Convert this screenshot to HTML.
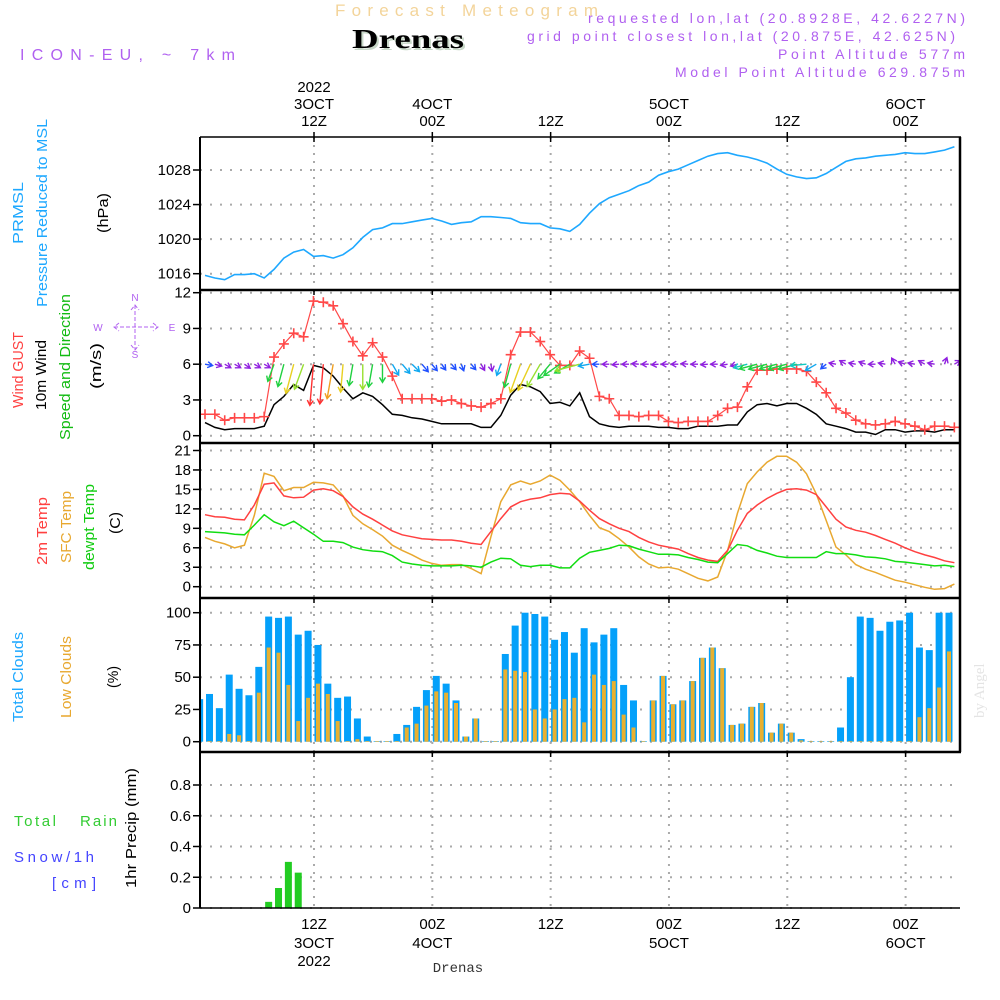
<!DOCTYPE html>
<html><head><meta charset="utf-8">
<style>
html,body{margin:0;padding:0;background:#fff;}
svg{display:block;font-family:"Liberation Sans",sans-serif;}
.tk{font-size:15px;fill:#000;}
.pu{font-size:14px;fill:#b060f0;}
</style></head>
<body>
<svg id="chart" width="1000" height="1000" viewBox="0 0 1000 1000" xmlns="http://www.w3.org/2000/svg">
<rect x="0" y="0" width="1000" height="1000" fill="#fff"/>
<text x="335" y="16" font-size="17" fill="#f3d49a" textLength="263" lengthAdjust="spacing">Forecast Meteogram</text>
<text x="354" y="50" font-size="27" font-weight="bold" font-family="Liberation Serif, serif" fill="#c8d8c8" textLength="112" lengthAdjust="spacingAndGlyphs">Drenas</text>
<text x="352" y="48" font-size="27" font-weight="bold" font-family="Liberation Serif, serif" fill="#000" textLength="112" lengthAdjust="spacingAndGlyphs">Drenas</text>
<text x="588" y="23" class="pu" textLength="377" lengthAdjust="spacing">requested lon,lat (20.8928E, 42.6227N)</text>
<text x="527" y="41" class="pu" textLength="428" lengthAdjust="spacing">grid point closest lon,lat (20.875E, 42.625N)</text>
<text x="778" y="59" class="pu" textLength="187" lengthAdjust="spacing">Point Altitude 577m</text>
<text x="675" y="77" class="pu" textLength="290" lengthAdjust="spacing">Model Point Altitude 629.875m</text>
<text x="20" y="60" font-size="16" fill="#b060f0" textLength="215" lengthAdjust="spacing">ICON-EU, ~ 7km</text>
<text x="0" y="0" transform="translate(984,718) rotate(-90)" font-size="15" font-family="Liberation Serif, serif" fill="#e4e4e4">by Angel</text>
<g id="labels" font-size="15"></g>
<g id="grid"></g>
<g id="marks"></g>
<g id="frame"></g>
</svg>
<script>
// ---- data (hourly, k = 0..76) ----
const pressure=[1015.8,1015.5,1015.3,1015.9,1015.9,1016.0,1015.5,1016.5,1017.8,1018.5,1018.8,1018.0,1018.1,1017.8,1018.2,1019.0,1020.2,1021.1,1021.3,1021.8,1021.8,1022.0,1022.2,1022.4,1022.1,1021.7,1021.9,1022.0,1022.6,1022.6,1022.5,1022.4,1021.9,1021.8,1021.8,1021.3,1021.2,1020.9,1021.7,1023.0,1024.1,1024.8,1025.2,1025.6,1026.2,1026.6,1027.4,1027.8,1028.1,1028.6,1029.1,1029.6,1029.9,1030.0,1029.7,1029.5,1029.2,1028.8,1028.1,1027.5,1027.2,1027.0,1027.1,1027.6,1028.3,1029.0,1029.3,1029.4,1029.6,1029.7,1029.8,1030.0,1029.9,1029.9,1030.1,1030.3,1030.7];
const gust=[1.8,1.8,1.3,1.5,1.5,1.5,1.6,6.6,7.7,8.6,8.3,11.3,11.2,10.9,9.4,7.9,6.7,7.8,6.6,5.0,3.1,3.1,3.1,3.1,2.9,3.0,2.7,2.5,2.4,2.7,3.1,6.8,8.7,8.7,7.9,6.8,5.9,5.9,7.1,6.5,3.3,3.1,1.7,1.7,1.6,1.7,1.7,1.2,1.1,1.2,1.2,1.2,1.7,2.3,2.4,4.1,5.5,5.5,5.6,5.6,5.6,5.4,4.5,3.6,2.3,1.9,1.3,1.0,0.9,1.0,1.2,1.0,0.8,0.5,0.8,0.8,0.7];
const wind=[1.1,0.7,0.5,0.6,0.6,0.6,0.8,2.6,3.3,4.3,3.8,5.9,5.7,5.0,4.0,3.1,3.6,3.3,2.6,1.8,1.7,1.5,1.4,1.2,1.0,1.0,1.0,1.0,0.7,0.7,1.7,3.4,4.3,4.1,3.7,2.7,2.8,2.5,3.6,1.6,1.0,0.8,0.7,0.8,0.8,0.8,0.7,0.7,0.6,0.6,0.8,0.8,0.8,0.9,0.9,2.0,2.6,2.7,2.5,2.7,2.7,2.3,1.8,1.0,0.8,0.6,0.3,0.3,0.1,0.5,0.5,0.3,0.4,0.4,0.3,0.5,0.5];
const windDir=[280,285,300,300,305,300,300,20,15,15,20,5,5,10,5,10,0,10,0,330,320,315,320,320,325,320,340,320,330,350,20,15,20,25,30,40,55,60,75,80,90,90,85,90,95,90,85,90,90,95,90,85,90,80,75,75,75,75,75,75,75,85,60,50,100,120,100,110,90,100,150,110,100,120,100,200,240];
const temp2m=[11.1,10.8,10.7,10.4,10.3,12.6,15.8,16.0,14.0,13.7,13.8,14.9,15.1,14.8,13.9,12.3,11.2,10.4,9.5,8.6,8.0,7.7,7.4,7.3,7.2,7.2,7.0,6.7,6.5,8.5,10.5,12.3,13.1,13.5,13.7,14.2,14.4,14.3,13.2,11.8,10.5,9.7,9.0,8.5,7.6,6.9,6.4,6.1,5.8,5.1,4.5,4.1,3.9,5.6,8.7,11.3,12.6,13.6,14.4,15.0,15.1,14.9,14.2,12.3,10.4,9.2,8.7,8.4,7.9,7.3,6.7,6.0,5.4,4.9,4.5,4.0,3.7];
const tempSfc=[7.6,7.0,6.6,6.0,6.4,11.0,17.5,17.0,14.8,15.3,15.3,16.1,16.0,15.7,14.0,11.0,9.7,8.8,7.8,6.4,5.6,4.9,4.1,3.6,3.3,3.4,3.4,2.8,2.0,7.7,13.1,15.7,16.3,15.8,16.3,17.2,16.4,14.9,13.1,11.0,9.1,8.5,7.4,6.1,4.6,3.5,2.9,3.0,2.7,2.0,1.3,0.9,1.5,5.6,11.3,15.9,17.7,19.2,20.1,20.1,19.2,17.4,14.3,10.2,6.1,4.9,3.4,2.7,2.2,1.6,1.0,0.7,0.3,-0.1,-0.4,-0.3,0.4];
const dewpt=[8.5,8.4,8.3,8.1,8.0,9.5,11.1,10.0,9.4,10.1,9.1,8.1,7.0,7.0,6.8,6.1,5.7,5.5,5.4,4.8,3.8,3.5,3.3,3.2,3.2,3.2,3.3,3.2,3.0,3.8,4.4,4.3,3.3,3.1,3.3,3.3,2.9,2.9,4.4,5.3,5.6,5.9,6.4,6.3,5.8,5.4,5.0,5.0,4.9,4.5,4.2,3.8,3.7,5.1,6.5,6.3,5.6,5.2,4.7,4.5,4.5,4.5,4.5,5.4,5.1,5.1,4.9,4.6,4.5,4.3,3.9,3.8,3.6,3.4,3.2,3.3,3.1];
// bars: hour index k = -1..75
const cloudTotal=[33,37,26,52,41,36,58,97,96,97,83,86,75,45,34,35,18,4,0.5,0.5,6,13,27,40,51,45,32,4,18,0.5,0.5,68,90,100,99,97,79,85,69,88,77,83,88,44,32,0.5,32,51,29,32,47,65,73,57,13,14,27,30,7,14,7,2,0.5,0.5,0.5,11,50,97,96,86,93,94,100,73,71,100,100];
const cloudLow=[0,0.5,0.5,6,5,0.5,38,73,69,44,16,34,45,37,16,0.5,2,0.5,0.5,0.5,0.5,11,14,28,39,38,30,4,18,0.5,0.5,56,55,54,25,18,25,33,34,15,52,44,47,21,11,0.5,32,51,29,32,47,65,73,57,13,14,27,30,7,14,7,1,0.5,0.5,0.5,0.5,0.5,0.5,0.5,0.5,0.5,0.5,0.5,19,26,42,70];
const precip=[0,0,0,0,0,0,0,0.04,0.13,0.30,0.23,0,0,0,0,0,0,0,0,0,0,0,0,0,0,0,0,0,0,0,0,0,0,0,0,0,0,0,0,0,0,0,0,0,0,0,0,0,0,0,0,0,0,0,0,0,0,0,0,0,0,0,0,0,0,0,0,0,0,0,0,0,0,0,0,0,0];
const pTicks=[1016,1020,1024,1028];
const wTicks=[0,3,6,9,12];
const tTicks=[0,3,6,9,12,15,18,21];
const cTicks=[0,25,50,75,100];
const rTicks=[0,0.2,0.4,0.6,0.8];
const timeTicks=[12,24,36,48,60,72];
const topRow1=["2022","","","","",""];
const topRow2=["3OCT","4OCT","","5OCT","","6OCT"];
const topRow3=["12Z","00Z","12Z","00Z","12Z","00Z"];

// ---- scales ----
const NS='http://www.w3.org/2000/svg';
const X0=200,X1=960;
function xs(h){return 205+h*9.86;}
function xt(t){return 314+(t-12)*9.86;}
function lin(d0,d1,r0,r1){return v=>r0+(v-d0)*(r1-r0)/(d1-d0);}
const yP=lin(1016,1028,273.7,170);
const yW=lin(0,12,435.7,292.7);
const yT=lin(0,21,586.7,450.5);
const yC=lin(0,100,741.7,612.7);
const yR=lin(0,0.8,908,785);
function el(tag,attrs,parent){const e=document.createElementNS(NS,tag);for(const k in attrs)e.setAttribute(k,attrs[k]);(parent||document.getElementById('marks')).appendChild(e);return e;}
const grid=document.getElementById('grid'),marks=document.getElementById('marks'),frame=document.getElementById('frame'),labels=document.getElementById('labels');
el('clipPath',{id:'clip'},marks);
el('rect',{x:X0,y:130,width:X1-X0,height:790},document.getElementById('clip'));

const panels=[{t:137,b:290,ticks:pTicks,y:yP,name:'pressure'},{t:290,b:443,ticks:wTicks,y:yW,name:'wind'},{t:443,b:598,ticks:tTicks,y:yT,name:'temp'},{t:598,b:752,ticks:cTicks,y:yC,name:'cloud'},{t:752,b:908,ticks:rTicks,y:yR,name:'precip'}];
panels.forEach(p=>{
  p.ticks.forEach(v=>{
    const y=p.y(v);
    const g=el('line',{x1:X0,x2:X1,y1:y,y2:y,stroke:'#aaa','stroke-width':2,'stroke-dasharray':'2,8'},grid);
    
    
    el('line',{x1:193,x2:X0,y1:y,y2:y,stroke:'#000','stroke-width':1.5},frame);
    const tx=el('text',{x:191,y:y+5,'text-anchor':'end',class:'tk'},labels);
    tx.textContent=String(v);
    
    
  });
  timeTicks.forEach(t=>{
    const x=xt(t);
    const g=el('line',{x1:x,x2:x,y1:p.t,y2:p.b,stroke:'#aaa','stroke-width':2,'stroke-dasharray':'2,6'},grid);
    
    
    el('line',{x1:x,x2:x,y1:p.t,y2:p.t+5,stroke:'#000','stroke-width':1.5},frame);
  });
  const s=el('line',{x1:X0,x2:X1+1,y1:p.t,y2:p.t,stroke:'#000','stroke-width':p.t==137?1.5:2.5},frame);
  
  
});
el('line',{x1:X0,x2:X1,y1:908,y2:908,stroke:'#000','stroke-width':1.5},frame);
el('line',{x1:X0,x2:X0,y1:137,y2:908,stroke:'#000','stroke-width':2},frame);
el('line',{x1:X1,x2:X1,y1:137,y2:752,stroke:'#000','stroke-width':2.5},frame);
timeTicks.forEach((t,i)=>{
  const x=xt(t);
  el('line',{x1:x,x2:x,y1:132,y2:137,stroke:'#000','stroke-width':1.5},frame);
  [[topRow1[i],92],[topRow2[i],109],[topRow3[i],126]].forEach(([s,y])=>{
    if(!s)return;const tx=el('text',{x:x,y:y,'text-anchor':'middle',class:'tk'},labels);tx.textContent=s;
    
    
  });
  [[topRow3[i],929],[topRow2[i],948],[topRow1[i],966]].forEach(([s,y])=>{
    if(!s)return;const tx=el('text',{x:x,y:y,'text-anchor':'middle',class:'tk'},labels);tx.textContent=s;
    
    
  });
});

function polyline(arr,yf,color,name,w){
  const pts=arr.map((v,k)=>xs(k).toFixed(1)+','+yf(v).toFixed(1)).join(' ');
  const p=el('polyline',{points:pts,fill:'none',stroke:color,'stroke-width':w||1.5,'clip-path':'url(#clip)'});
  
  
}
polyline(pressure,yP,'#1ea8ff','pressure-line',1.6);
cloudTotal.forEach((v,i)=>{
  const h=i-1,x=xs(h)+1,y=yC(v);
  const r=el('rect',{x:x,y:y,width:7,height:yC(0)-y,fill:'#04a0fa','clip-path':'url(#clip)'});
  
  
});
cloudLow.forEach((v,i)=>{
  if(v<=0)return;
  const h=i-1,x=xs(h)+2.5,y=yC(v);
  const r=el('rect',{x:x,y:y,width:4,height:yC(0)-y,fill:'#e8b030','clip-path':'url(#clip)'});
  
  
});
precip.forEach((v,i)=>{
  if(v<=0)return;
  const h=i-1,x=xs(h)+1,y=yR(v);
  const r=el('rect',{x:x,y:y,width:7,height:yR(0)-y,fill:'#22cc22'});
  
  
});
polyline(tempSfc,yT,'#e8a830','sfc-temp-line',1.5);
polyline(temp2m,yT,'#ff4040','temp-2m-line',1.5);
polyline(dewpt,yT,'#11dd11','dewpoint-line',1.5);
polyline(wind,yW,'#000','wind-speed-line',1.5);
polyline(gust,yW,'#ff4848','wind-gust-line',1.2);
gust.forEach((v,k)=>{
  const x=xs(k),y=yW(v);
  const m=el('path',{d:`M${x-5},${y}H${x+5}M${x},${y-5}V${y+5}`,stroke:'#ff4848','stroke-width':1.6});
  
  
});
function spdColor(s){if(s<1)return '#9020e0';if(s<1.5)return '#2050ff';if(s<2)return '#10a8f0';if(s<2.5)return '#10c8c0';if(s<3.5)return '#20d040';if(s<4)return '#98e030';if(s<5)return '#e8d020';if(s<5.5)return '#f0a020';return '#ff3030';}
windDir.forEach((d,k)=>{
  const s=wind[k],L=Math.max(7,s*7),a=d*Math.PI/180;
  const dx=-Math.sin(a),dy=Math.cos(a);
  const x0=xs(k),y0=yW(6),x1=x0+dx*L,y1=y0+dy*L;
  const hx=-dx*5,hy=-dy*5,px=-dy*3,py=dx*3;
  const c=spdColor(s);
  const ar=el('path',{d:`M${x0},${y0}L${x1},${y1}M${x1+hx+px},${y1+hy+py}L${x1},${y1}L${x1+hx-px},${y1+hy-py}`,stroke:c,'stroke-width':1.4,fill:'none','clip-path':'url(#clip)'});
  
  
});

function vtext(s,x,y,color,name,size,len){
  const t=el('text',{transform:`translate(${x},${y}) rotate(-90)`,'text-anchor':'middle','font-size':size||15,fill:color},labels);
  if(len){t.setAttribute('textLength',len);t.setAttribute('lengthAdjust','spacingAndGlyphs');}
  t.textContent=s;
  
  
}
vtext('PRMSL',23,213,'#1ea8ff','prmsl-label',15,62);
vtext('Pressure Reduced to MSL',47,213,'#1ea8ff','pressure-label',15,188);
vtext('(hPa)',108,213,'#000','pressure-unit',15,40);
vtext('Wind GUST',23,370,'#ff4040','gust-label',15,76);
vtext('10m Wind',46,375,'#000','wind-label',15,70);
vtext('Speed and Direction',70,367,'#11bb11','direction-label',15,146);
vtext('(m/s)',101,366,'#000','wind-unit',15,46);
vtext('2m Temp',47,531,'#ff4040','temp2m-label',15,68);
vtext('SFC Temp',71,527,'#e8a830','sfc-temp-label',15,72);
vtext('dewpt Temp',94,527,'#11cc11','dewpt-label',15,86);
vtext('(C)',120,523,'#000','temp-unit',15,22);
vtext('Total Clouds',23,677,'#1ea8ff','total-cloud-label',15,90);
vtext('Low Clouds',71,677,'#e8a830','low-cloud-label',15,82);
vtext('(%)',118,677,'#000','cloud-unit',15,22);
vtext('1hr Precip (mm)',136,828,'#000','precip-label',15,120);
[['Total',14,826,'#33cc33',42],['Rain',80,826,'#33cc33',37],['Snow/1h',14,862,'#4444ff',80],['[cm]',52,888,'#4444ff',44]].forEach(([s,x,y,c,len])=>{
  const t=el('text',{x:x,y:y,'font-size':15,fill:c,textLength:len},labels);t.textContent=s;
  
  
});
[['N',135,301],['S',135,358],['W',98,331],['E',172,331]].forEach(([s,x,y])=>{
  const t=el('text',{x:x,y:y,'text-anchor':'middle','font-size':10,fill:'#b060f0'},labels);t.textContent=s;
  
  
});
const cp=el('path',{d:'M114,327H158M119,323L114,327L119,331M153,323L158,327L153,331M135,305V350M131,310L135,305L139,310M131,345L135,350L139,345',stroke:'#b060f0','stroke-width':1,fill:'none','stroke-dasharray':'4,2'},labels);


const foot=el('text',{x:458,y:972,'text-anchor':'middle','font-size':14,'font-family':'Liberation Mono, monospace',fill:'#333'},labels);
foot.textContent='Drenas';


</script>
</body></html>
